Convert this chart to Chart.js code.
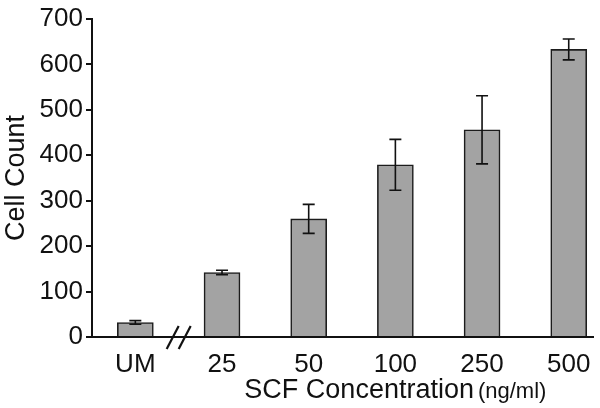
<!DOCTYPE html>
<html>
<head>
<meta charset="utf-8">
<script src="https://cdn.jsdelivr.net/npm/chart.js@4/dist/chart.umd.min.js"></script>
<style>
  html, body { margin: 0; padding: 0; background: #fff; }
  #wrap { width: 600px; height: 408px; }
</style>
</head>
<body>
<div id="wrap"><canvas id="myChart"></canvas></div>
<script>
// données
const categories = ["UM", "25", "50", "100", "250", "500"];
const cellCount = [32, 142, 260, 379, 456, 633];
const errors = [4, 5, 32, 56, 75, 23];
const yTicks = [0, 100, 200, 300, 400, 500, 600, 700];

const font = "'Liberation Sans', Arial, Helvetica, sans-serif";

// barres d'erreur + coupure de l'axe
const extras = {
  id: "extras",
  afterDatasetsDraw(chart) {
    const ctx = chart.ctx;
    const x = chart.scales.x;
    const y = chart.scales.y;
    ctx.save();
    ctx.strokeStyle = "#111";
    ctx.lineWidth = 1.6;
    cellCount.forEach((v, i) => {
      const px = x.getPixelForValue(i);
      const top = y.getPixelForValue(v + errors[i]);
      const bot = y.getPixelForValue(v - errors[i]);
      ctx.beginPath();
      ctx.moveTo(px, top); ctx.lineTo(px, bot);
      ctx.moveTo(px - 6, top); ctx.lineTo(px + 6, top);
      ctx.moveTo(px - 6, bot); ctx.lineTo(px + 6, bot);
      ctx.stroke();
    });
    // coupure //
    const bx = x.getPixelForValue(0.5);
    const by = y.getPixelForValue(0);
    ctx.lineWidth = 2.2;
    [-6, 6].forEach(d => {
      ctx.beginPath();
      ctx.moveTo(bx + d - 6, by + 12);
      ctx.lineTo(bx + d + 6, by - 11);
      ctx.stroke();
    });
    ctx.restore();
  },
  afterDraw(chart) {
    const ctx = chart.ctx;
    const x = chart.scales.x;
    ctx.save();
    ctx.fillStyle = "#111";
    ctx.textBaseline = "alphabetic";
    ctx.font = "27px " + font;
    const main = "SCF Concentration";
    const unit = "(ng/ml)";
    const w1 = ctx.measureText(main).width;
    ctx.font = "22px " + font;
    const w2 = ctx.measureText(unit).width;
    const start = x.getPixelForValue(3) - (w1 + 4 + w2) / 2;
    ctx.font = "27px " + font;
    ctx.fillText(main, start, 398);
    ctx.font = "22px " + font;
    ctx.fillText(unit, start + w1 + 4, 398);
    ctx.restore();
  }
};

const myChart = new Chart(document.getElementById("myChart"), {
  type: "bar",
  data: {
    datasets: [{
      data: cellCount.map((v, i) => ({ x: i, y: v })),
      backgroundColor: "#a3a3a3",
      borderColor: "#1c1c1c",
      borderWidth: 1.6,
      barThickness: 36
    }]
  },
  options: {
    responsive: true,
    maintainAspectRatio: false,
    animation: false,
    layout: { padding: { top: 19, right: 7, left: 0, bottom: 0 } },
    plugins: { legend: { display: false }, tooltip: { enabled: false } },
    scales: {
      x: {
        type: "linear",
        offset: false,
        min: -0.5,
        max: 5.28,
        afterBuildTicks: axis => { axis.ticks = categories.map((c, i) => ({ value: i })); },
        afterFit: axis => { axis.height = 71; },
        grid: { display: false },
        border: { display: true, color: "#111", width: 2 },
        ticks: {
          color: "#111",
          font: { family: font, size: 26 },
          padding: 4,
          maxRotation: 0,
          autoSkip: false,
          callback: v => categories[v]
        }
      },
      y: {
        min: 0,
        max: 700,
        afterBuildTicks: axis => { axis.ticks = yTicks.map(v => ({ value: v })); },
        afterFit: axis => { axis.width = 92; },
        grid: { drawOnChartArea: false, drawTicks: true, tickLength: 6, color: "#111", lineWidth: 2 },
        border: { display: true, color: "#111", width: 2 },
        ticks: {
          color: "#111",
          font: { family: font, size: 26 },
          padding: 3
        },
        title: {
          display: true,
          text: "Cell Count",
          color: "#111",
          font: { family: font, size: 27 },
          padding: 0
        }
      }
    }
  },
  plugins: [extras]
});
</script>
</body>
</html>
